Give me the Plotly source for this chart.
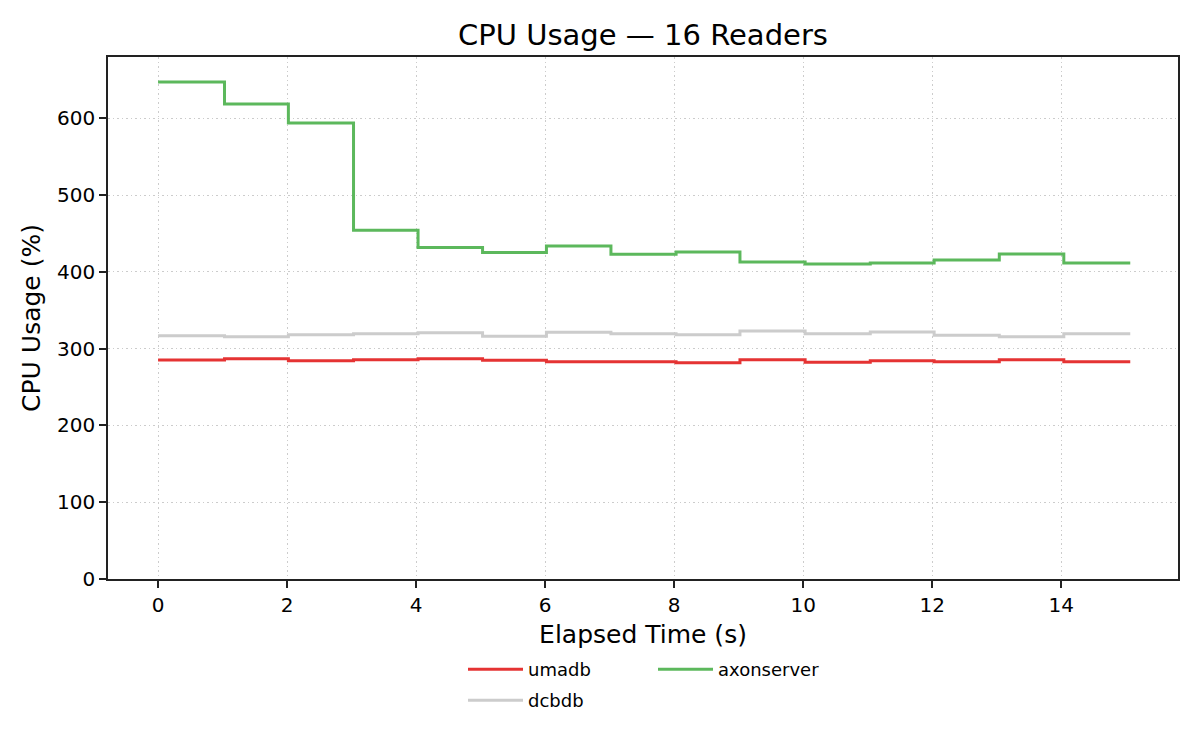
import plotly.graph_objects as go

elapsed = [0, 1.03, 2.02, 3.03, 4.03, 5.03, 6.02, 7.02, 8.03, 9.02, 10.03, 11.04, 12.03, 13.04, 14.04, 15.07]
umadb = [285.2, 287.0, 284.3, 285.7, 287.0, 284.8, 283.0, 283.0, 281.7, 285.7, 282.2, 284.3, 283.0, 285.7, 283.0, 283.0]
dcbdb = [317.0, 315.7, 318.3, 319.6, 320.9, 316.1, 321.3, 319.6, 318.3, 323.0, 319.6, 321.7, 317.4, 315.7, 319.6, 319.6]
axonserver = [647.3, 618.9, 593.9, 454.4, 432.0, 425.4, 433.8, 423.2, 426.1, 413.0, 410.4, 411.7, 415.7, 423.5, 411.7, 411.7]

x_ticks = [0, 2, 4, 6, 8, 10, 12, 14]
y_ticks = [0, 100, 200, 300, 400, 500, 600]

FONT = "DejaVu Sans"

fig = go.Figure()
fig.add_trace(go.Scatter(x=elapsed, y=umadb, name="umadb", mode="lines",
                         line=dict(color="#e53333", width=3, shape="hv"), legend="legend"))
fig.add_trace(go.Scatter(x=elapsed, y=dcbdb, name="dcbdb", mode="lines",
                         line=dict(color="#cccccc", width=3, shape="hv"), legend="legend3"))
fig.add_trace(go.Scatter(x=elapsed, y=axonserver, name="axonserver", mode="lines",
                         line=dict(color="#5cb85c", width=3, shape="hv"), legend="legend2"))

axis_common = dict(
    showline=True, linecolor="#222222", linewidth=1.6, mirror=True,
    ticks="outside", ticklen=7, tickwidth=1.6, tickcolor="#222222",
    showgrid=True, gridcolor="#cccccc", griddash="1.7px,2.8px", gridwidth=1.4,
    zeroline=False, tickfont=dict(family=FONT, size=20, color="black"),
)

PLOT_LEFT, PLOT_BOTTOM = 108, 579
H_PLOT = 522.0
W_PLOT = 1070.0

def leg(xpx, ypx):
    # left/top of legend box in page pixels
    return dict(x=(xpx - PLOT_LEFT) / W_PLOT, y=-(ypx - PLOT_BOTTOM) / H_PLOT,
                xanchor="left", yanchor="top", orientation="v",
                font=dict(family=FONT, size=18, color="black"),
                bgcolor="rgba(0,0,0,0)", itemwidth=55)

fig.update_layout(
    width=1200, height=750,
    paper_bgcolor="white", plot_bgcolor="white",
    margin=dict(l=100, r=30, t=49, b=179),
    font=dict(family=FONT, color="black"),
    title=dict(text="CPU Usage — 16 Readers", xref="paper", x=0.5, xanchor="center",
               yref="container", y=1 - 27 / 750, yanchor="middle",
               font=dict(family=FONT, size=29, color="black")),
    xaxis=dict(axis_common, range=[-0.776, 15.81], tickvals=x_ticks,
               title=dict(text="Elapsed Time (s)", font=dict(family=FONT, size=25), standoff=10)),
    yaxis=dict(axis_common, range=[0, 680], tickvals=y_ticks,
               title=dict(text="CPU Usage (%)", font=dict(family=FONT, size=25), standoff=9)),
    legend=leg(463, 651),
    legend2=leg(653, 651),
    legend3=leg(463, 682),
    showlegend=True,
)

fig.write_html("out.html")
